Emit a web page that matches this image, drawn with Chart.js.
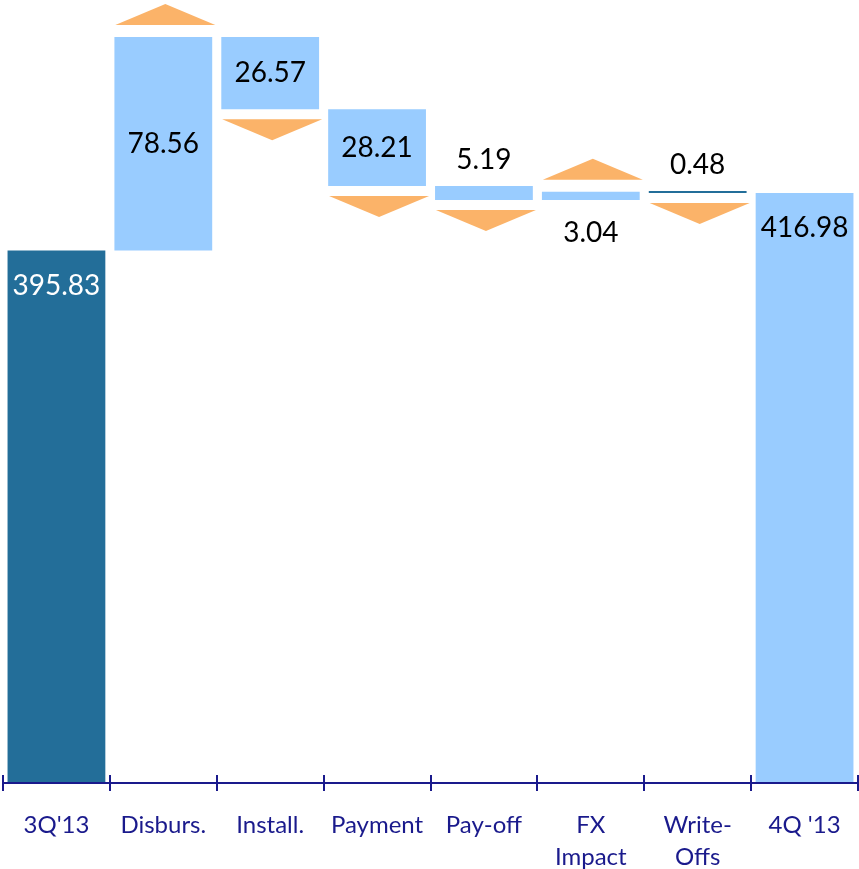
<!DOCTYPE html>
<html>
<head>
<meta charset="utf-8">
<script src="https://cdn.jsdelivr.net/npm/chart.js@4"></script>
<style>
html, body { margin: 0; padding: 0; background: #fff; }
</style>
</head>
<body>
<canvas id="canvas" width="859" height="869"></canvas>
<script>
const categories = ["3Q'13", 'Disburs.', 'Install.', 'Payment', 'Pay-off', ['FX', 'Impact'], ['Write-', 'Offs'], "4Q '13"];
const startTotal = 395.83;
const changes = [78.56, -26.57, -28.21, -5.19, 3.04, -0.48];
const endTotal = 416.98;
const yMin = 200;
const yMax = 488;

const darkBlue = '#236E99';
const lightBlue = '#99CCFF';
const orange = '#FBB369';
const navy = '#1A1A8C';

// floating bars: [from, to]
const ranges = [[yMin, startTotal]];
let running = startTotal;
changes.forEach(c => {
    const next = +(running + c).toFixed(2);
    ranges.push([running, next]);
    running = next;
});
ranges.push([yMin, endTotal]);

const valueTexts = [startTotal, ...changes.map(Math.abs), endTotal].map(v => v.toFixed(2));
const barColors = [darkBlue, lightBlue, lightBlue, lightBlue, lightBlue, lightBlue, darkBlue, lightBlue];

const waterfallMarks = {
    id: 'waterfallMarks',
    afterDatasetsDraw(chart) {
        const ctx = chart.ctx;
        const meta = chart.getDatasetMeta(0);
        const x = chart.scales.x;
        const step = x.width / categories.length;
        const last = meta.data.length - 1;

        ctx.save();
        meta.data.forEach((bar, i) => {
            const top = Math.min(bar.y, bar.base);
            const bottom = Math.max(bar.y, bar.base);
            const height = bottom - top;
            const cx = bar.x + 2;
            const kind = (i === 0 || i === last) ? 'total' : (changes[i - 1] >= 0 ? 'up' : 'down');

            // arrow
            if (kind !== 'total') {
                ctx.fillStyle = orange;
                ctx.beginPath();
                if (kind === 'up') {
                    ctx.moveTo(cx - 50, top - 12);
                    ctx.lineTo(cx + 50, top - 12);
                    ctx.lineTo(cx, top - 33);
                } else {
                    ctx.moveTo(cx - 50, bottom + 10);
                    ctx.lineTo(cx + 50, bottom + 10);
                    ctx.lineTo(cx, bottom + 31);
                }
                ctx.closePath();
                ctx.fill();
            }

            // value label
            let ty;
            let color = '#000';
            if (kind === 'total') {
                ty = top + 35;
                if (barColors[i] === darkBlue) color = '#fff';
            } else if (height > 50) {
                ty = (top + bottom) / 2;
            } else if (kind === 'up') {
                ty = bottom + 33;
            } else {
                ty = top - 26;
            }
            ctx.fillStyle = color;
            ctx.font = '28px Lato';
            ctx.textAlign = 'center';
            ctx.textBaseline = 'middle';
            ctx.fillText(valueTexts[i], bar.x, ty);
        });

        // axis line and tick marks
        const axisY = chart.chartArea.bottom;
        ctx.strokeStyle = navy;
        ctx.lineWidth = 2;
        ctx.beginPath();
        ctx.moveTo(x.left, axisY);
        ctx.lineTo(x.right, axisY);
        for (let i = 0; i <= categories.length; i++) {
            const px = Math.round(x.left + i * step);
            ctx.moveTo(px, axisY - 8);
            ctx.lineTo(px, axisY + 8);
        }
        ctx.stroke();
        ctx.restore();
    }
};

new Chart(document.getElementById('canvas'), {
    type: 'bar',
    data: {
        labels: categories,
        datasets: [{
            data: ranges,
            backgroundColor: barColors,
            borderWidth: 0,
            minBarLength: 2,
            barPercentage: 0.915,
            categoryPercentage: 1
        }]
    },
    options: {
        responsive: false,
        animation: false,
        devicePixelRatio: 1,
        layout: { padding: { left: 3, right: 1, top: 0, bottom: 0 } },
        plugins: {
            legend: { display: false },
            tooltip: { enabled: false }
        },
        scales: {
            x: {
                grid: { display: false, drawTicks: false },
                border: { display: false },
                ticks: {
                    color: navy,
                    font: { family: 'Lato', size: 24, lineHeight: 1.35 },
                    padding: 26,
                    maxRotation: 0,
                    autoSkip: false
                },
                afterFit(scale) {
                    scale.paddingLeft = 0;
                    scale.paddingRight = 0;
                    scale.height = 86;
                }
            },
            y: {
                display: false,
                min: yMin,
                max: yMax
            }
        }
    },
    plugins: [waterfallMarks]
});
</script>
</body>
</html>
